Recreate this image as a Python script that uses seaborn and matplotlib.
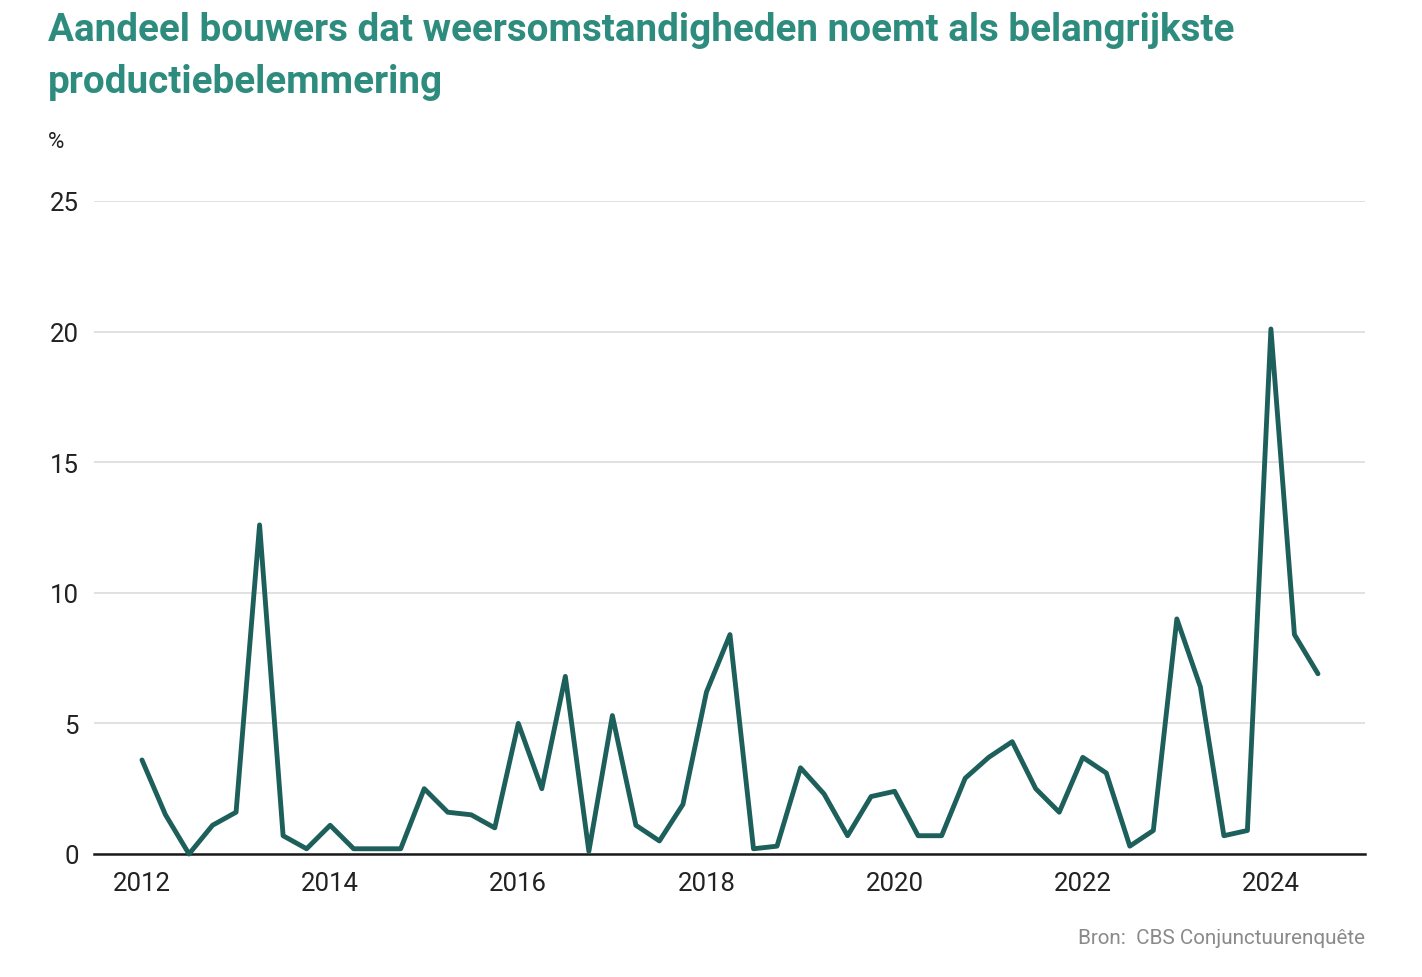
import matplotlib
matplotlib.use("Agg")
import matplotlib.pyplot as plt
import seaborn as sns
import pandas as pd

# Data: share of builders naming weather as main production constraint (%)
years = [y for y in range(2012, 2025) for _ in range(4)][:51]
quarters = [q for _ in range(2012, 2025) for q in (1, 2, 3, 4)][:51]
values = [
    3.6, 1.5, 0.0, 1.1,   # 2012
    1.6, 12.6, 0.7, 0.2,  # 2013
    1.1, 0.2, 0.2, 0.2,   # 2014
    2.5, 1.6, 1.5, 1.0,   # 2015
    5.0, 2.5, 6.8, 0.1,   # 2016
    5.3, 1.1, 0.5, 1.9,   # 2017
    6.2, 8.4, 0.2, 0.3,   # 2018
    3.3, 2.3, 0.7, 2.2,   # 2019
    2.4, 0.7, 0.7, 2.9,   # 2020
    3.7, 4.3, 2.5, 1.6,   # 2021
    3.7, 3.1, 0.3, 0.9,   # 2022
    9.0, 6.4, 0.7, 0.9,   # 2023
    20.1, 8.4, 6.9,       # 2024
]
x_ticks = [2012, 2014, 2016, 2018, 2020, 2022, 2024]
y_ticks = [0, 5, 10, 15, 20, 25]

title = "Aandeel bouwers dat weersomstandigheden noemt als belangrijkste\nproductiebelemmering"
source = "Bron:  CBS Conjunctuurenquête"

df = pd.DataFrame({"jaar": years, "kwartaal": quarters, "waarde": values})
df["t"] = df["jaar"] + (df["kwartaal"] - 1) / 4

sns.set_theme(style="white")
plt.rcParams["font.family"] = ["Roboto", "DejaVu Sans"]

W, H = 1422, 978
fig = plt.figure(figsize=(W / 100, H / 100), dpi=100)
ax = fig.add_axes([94 / W, 1 - 855 / H, (1365 - 94) / W, (855 - 202) / H])

sns.lineplot(data=df, x="t", y="waarde", ax=ax, color="#1d5f5a", linewidth=3.5,
             zorder=4, clip_on=False)

ax.set_xlim(2011.49, 2025.0)
ax.set_ylim(0, 25)
ax.set_xticks(x_ticks)
ax.set_xticklabels([str(v) for v in x_ticks])
ax.set_yticks(y_ticks)
ax.set_yticklabels([str(v) for v in y_ticks])
ax.set_xlabel("")
ax.set_ylabel("")

ax.grid(axis="y", color="#dedede", linewidth=1.3, zorder=0)
ax.grid(axis="x", visible=False)
for s in ["top", "right", "left"]:
    ax.spines[s].set_visible(False)
ax.spines["bottom"].set_color("#1a1a1a")
ax.spines["bottom"].set_linewidth(1.8)
ax.spines["bottom"].set_zorder(3)

ax.tick_params(axis="both", length=0, labelsize=18.5, colors="#222222")
ax.tick_params(axis="y", pad=11)
ax.tick_params(axis="x", pad=12)

fig.text(48 / W, 1 - 12 / H, title, ha="left", va="top", fontsize=27.8,
         fontweight="bold", color="#2e8c7e", linespacing=1.52)
fig.text(48 / W, 1 - 143 / H, "%", ha="left", va="center", fontsize=16,
         color="#222222")
fig.text(1365 / W, 1 - 939 / H, source, ha="right", va="center", fontsize=14.9,
         color="#8a8a8a")

fig.savefig("out.png", dpi=100)
